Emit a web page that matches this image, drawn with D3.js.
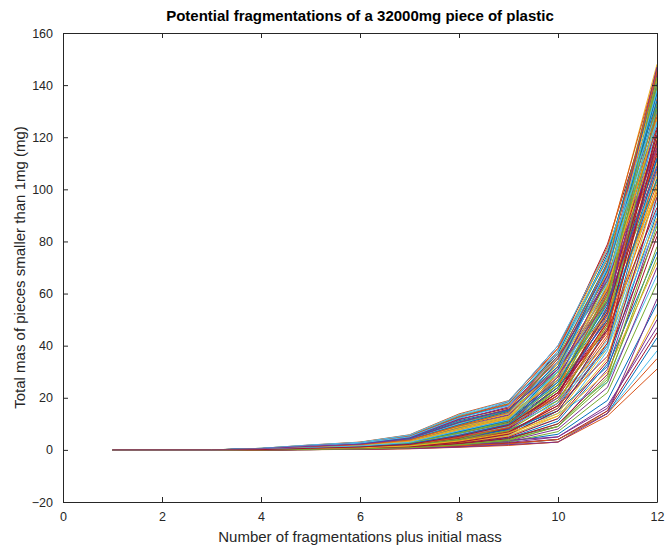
<!DOCTYPE html>
<html>
<head>
<meta charset="utf-8">
<script src="https://cdn.jsdelivr.net/npm/d3@7"></script>
<style>
  body { margin: 0; background: #fff; }
  svg { display: block; font-family: "Liberation Sans", Arial, sans-serif; }
</style>
</head>
<body>
<svg width="666" height="548"></svg>
<script>
const steps = [1, 2, 3, 4, 5, 6, 7, 8, 9, 10, 11, 12]
const xTicks = [0, 2, 4, 6, 8, 10, 12]
const yTicks = [-20, 0, 20, 40, 60, 80, 100, 120, 140, 160]

// each run: total mass below 1mg after every fragmentation step
const runs = [
  [0,0,0,0.3,1.0,1.6,3.1,8.2,12.4,27,52,121],
  [0,0,0,0.1,0.3,0.8,1.2,3.5,6.1,18,44,133],
  [0,0,0,0.5,1.6,2.4,4.8,11.5,16.2,33,61,104],
  [0,0,0,0.0,0.2,0.4,0.9,2.1,4.8,9,31,88],
  [0,0,0,0.2,0.7,1.3,2.2,6.7,11.0,30,72,146],
  [0,0,0,0.1,0.5,1.1,1.9,4.2,7.3,14,26,67],
  [0,0,0,0.4,1.2,2.0,3.9,9.8,15.1,38,79,139],
  [0,0,0,0.0,0.1,0.3,0.6,1.5,3.2,6,19,56],
  [0,0,0,0.2,0.9,1.5,2.7,7.1,9.4,22,48,117],
  [0,0,0,0.3,0.6,1.7,3.5,8.9,14.0,26,57,98],
  [0,0,0,0.1,0.4,0.9,1.6,3.8,8.2,21,54,142],
  [0,0,0,0.6,1.8,2.9,5.6,13.2,17.8,36,64,128],
  [0,0,0,0.0,0.3,0.6,1.1,2.6,5.5,12,38,109],
  [0,0,0,0.2,0.8,1.2,2.4,5.9,10.1,29,66,124],
  [0,0,0,0.1,0.2,0.5,0.8,1.9,2.4,4,14,43],
  [0,0,0,0.4,1.4,2.2,4.3,10.6,13.9,31,59,111],
  [0,0,0,0.2,0.6,1.0,2.0,4.9,9.0,24,62,147],
  [0,0,0,0.3,1.1,1.8,3.3,7.8,12.8,34,70,131],
  [0,0,0,0.0,0.2,0.5,1.0,2.4,4.1,10,27,74],
  [0,0,0,0.1,0.7,1.4,2.6,6.3,10.7,20,42,95],
  [0,0,0,0.5,1.5,2.6,5.0,12.1,18.5,40,76,136],
  [0,0,0,0.1,0.3,0.7,1.4,3.1,6.6,16,47,126],
  [0,0,0,0.2,0.9,1.6,2.9,7.4,11.8,25,50,102],
  [0,0,0,0.0,0.1,0.2,0.5,1.2,1.9,3,15,52],
  [0,0,0,0.3,1.0,1.9,3.7,9.2,13.5,32,68,144],
  [0,0,0,0.1,0.5,0.9,1.8,4.5,8.7,23,53,119],
  [0,0,0,0.4,1.3,2.1,4.1,10.2,14.6,29,55,97],
  [0,0,0,0.2,0.6,1.1,2.1,5.2,9.6,27,63,137],
  [0,0,0,0.0,0.2,0.5,0.9,2.2,4.5,11,33,91],
  [0,0,0,0.6,1.9,3.0,5.8,13.8,18.9,39,73,123],
  [0,0,0,0.1,0.4,0.8,1.5,3.6,7.6,19,49,129],
  [0,0,0,0.3,1.1,1.7,3.2,8.0,12.2,28,60,115],
  [0,0,0,0.0,0.1,0.3,0.7,1.7,3.0,7,22,64],
  [0,0,0,0.2,0.8,1.4,2.5,6.5,10.4,26,58,134],
  [0,0,0,0.5,1.6,2.5,4.9,11.8,16.0,35,67,118],
  [0,0,0,0.1,0.3,0.6,1.3,3.0,5.9,15,40,112],
  [0,0,0,0.2,0.7,1.2,2.3,5.7,9.9,21,45,99],
  [0,0,0,0.4,1.2,2.3,4.5,10.9,15.7,37,77,148],
  [0,0,0,0.0,0.2,0.4,0.8,2.0,3.7,5,17,47],
  [0,0,0,0.1,0.6,1.0,2.0,5.0,8.4,25,61,141],
  [0,0,0,0.3,0.9,1.8,3.4,8.5,13.1,30,56,106],
  [0,0,0,0.1,0.4,0.9,1.7,4.0,7.0,17,36,84],
  [0,0,0,0.2,1.0,1.5,2.8,7.0,11.3,31,69,138],
  [0,0,0,0.5,1.7,2.7,5.2,12.6,17.3,34,62,113],
  [0,0,0,0.0,0.3,0.6,1.2,2.8,5.2,13,35,101],
  [0,0,0,0.1,0.5,1.1,2.1,5.4,9.2,22,51,127],
  [0,0,0,0.3,1.2,1.9,3.6,9.0,14.3,36,74,143],
  [0,0,0,0.1,0.2,0.4,0.6,1.4,2.2,4,14,38],
  [0,0,0,0.2,0.8,1.3,2.6,6.1,10.6,24,46,93],
  [0,0,0,0.4,1.4,2.4,4.6,11.2,15.4,33,71,132],
  [0,0,0,0.1,0.4,0.7,1.4,3.3,6.3,18,50,135],
  [0,0,0,0.2,0.6,1.2,2.4,5.8,9.5,20,41,89],
  [0,0,0,0.0,0.2,0.3,0.6,1.6,3.4,8,24,70],
  [0,0,0,0.3,1.0,1.7,3.3,8.3,12.6,29,65,140],
  [0,0,0,0.6,1.8,2.8,5.4,13.0,18.2,38,70,125],
  [0,0,0,0.1,0.5,1.0,1.9,4.6,8.0,21,55,130],
  [0,0,0,0.2,0.9,1.4,2.7,6.9,11.6,27,54,108],
  [0,0,0,0.0,0.1,0.2,0.4,1.0,1.7,3,13,31],
  [0,0,0,0.3,1.1,2.0,3.8,9.5,13.8,32,63,120],
  [0,0,0,0.1,0.3,0.8,1.6,3.9,7.9,20,52,145],
  [0,0,0,0.4,1.3,2.2,4.2,10.4,14.9,30,58,103],
  [0,0,0,0.2,0.7,1.2,2.2,5.3,9.3,26,64,136],
  [0,0,0,0.0,0.2,0.5,1.0,2.3,4.3,10,29,82],
  [0,0,0,0.5,1.5,2.6,5.1,12.4,17.1,37,75,141],
  [0,0,0,0.1,0.4,0.8,1.5,3.5,7.1,16,43,116],
  [0,0,0,0.3,0.9,1.6,3.0,7.6,12.0,28,53,110],
  [0,0,0,0.1,0.2,0.4,0.8,1.8,2.8,5,16,50],
  [0,0,0,0.2,0.8,1.3,2.5,6.4,10.9,25,59,133],
  [0,0,0,0.4,1.3,2.1,4.0,9.9,14.2,34,66,122],
  [0,0,0,0.1,0.5,1.0,1.8,4.4,8.5,22,49,114],
  [0,0,0,0.2,0.6,1.1,2.0,4.8,7.7,15,32,76],
  [0,0,0,0.5,1.7,2.8,5.3,12.8,17.6,39,78,146],
  [0,0,0,0.0,0.3,0.6,1.1,2.7,5.7,14,39,105],
  [0,0,0,0.3,1.0,1.8,3.5,8.7,13.3,31,61,118],
  [0,0,0,0.1,0.4,0.9,1.7,4.1,8.8,23,57,139],
  [0,0,0,0.2,0.7,1.3,2.4,6.0,10.0,19,40,92],
  [0,0,0,0.0,0.1,0.3,0.6,1.3,2.6,4,15,45],
  [0,0,0,0.4,1.2,2.0,3.9,9.6,14.8,35,72,134],
  [0,0,0,0.1,0.5,1.0,2.0,4.7,9.1,24,60,128],
  [0,0,0,0.3,1.1,1.9,3.6,8.8,12.9,27,51,100],
  [0,0,0,0.2,0.6,1.2,2.3,5.6,9.8,28,67,147],
  [0,0,0,0.0,0.2,0.4,0.9,2.0,3.9,9,26,78],
  [0,0,0,0.6,1.9,2.9,5.7,13.5,18.7,40,77,130],
  [0,0,0,0.1,0.3,0.7,1.3,3.2,6.8,17,46,123],
  [0,0,0,0.2,0.9,1.5,2.8,7.2,11.2,26,56,112],
  [0,0,0,0.1,0.2,0.3,0.7,1.6,2.3,4,14,35],
  [0,0,0,0.3,1.0,1.7,3.2,8.1,12.7,33,68,142],
  [0,0,0,0.5,1.6,2.5,4.7,11.6,16.5,36,65,116],
  [0,0,0,0.1,0.4,0.9,1.6,3.7,7.4,19,48,131],
  [0,0,0,0.2,0.7,1.1,2.1,5.1,8.9,18,39,87],
  [0,0,0,0.0,0.2,0.5,1.0,2.5,4.9,12,34,97],
  [0,0,0,0.4,1.3,2.3,4.4,10.7,15.3,32,69,137],
  [0,0,0,0.1,0.5,1.1,2.0,4.9,8.6,21,47,107],
  [0,0,0,0.3,0.8,1.6,3.1,7.7,12.3,29,62,127],
  [0,0,0,0.0,0.1,0.3,0.5,1.1,2.0,3,14,58],
  [0,0,0,0.2,0.9,1.4,2.6,6.6,10.3,23,58,143],
  [0,0,0,0.5,1.5,2.6,5.0,12.2,17.0,38,74,126],
  [0,0,0,0.1,0.3,0.6,1.2,2.9,6.0,15,41,119],
  [0,0,0,0.2,0.7,1.2,2.3,5.5,9.7,24,50,104],
  [0,0,0,0.3,1.2,2.0,3.8,9.3,14.4,35,71,145],
  [0,0,0,0.1,0.4,0.8,1.5,3.4,6.5,13,30,72],
  [0,0,0,0.4,1.4,2.2,4.3,10.5,15.6,31,57,109],
  [0,0,0,0.0,0.2,0.4,0.8,1.9,3.6,9,28,86],
  [0,0,0,0.2,0.8,1.5,2.9,7.3,11.5,30,70,138],
  [0,0,0,0.1,0.6,1.1,2.1,5.2,9.4,22,53,121],
]

// matlab default line order
const lineColors = ['#0072BD', '#D95319', '#EDB120', '#7E2F8E', '#77AC30', '#4DBEEE', '#A2142F']

const margin = { top: 33, right: 9, bottom: 46, left: 63 }
const width = 666 - margin.left - margin.right
const height = 548 - margin.top - margin.bottom
const ink = '#262626'

const svg = d3.select('svg')
const g = svg.append('g').attr('transform', `translate(${margin.left},${margin.top})`)

const x = d3.scaleLinear().domain([0, 12]).range([0, width])
const y = d3.scaleLinear().domain([-20, 160]).range([height, 0])

const line = d3.line()
  .x((d, i) => x(steps[i]))
  .y(d => y(d))

g.append('g')
  .selectAll('path')
  .data(runs)
  .join('path')
  .attr('d', line)
  .attr('fill', 'none')
  .attr('stroke', (d, i) => lineColors[i % lineColors.length])
  .attr('stroke-width', 1)

// box and mirrored inward ticks, like matlab
const tickLen = 5
const xAxisB = d3.axisBottom(x).tickValues(xTicks).tickSizeInner(-tickLen).tickSizeOuter(0).tickPadding(10)
const xAxisT = d3.axisTop(x).tickValues(xTicks).tickSizeInner(-tickLen).tickSizeOuter(0).tickFormat('')
const yAxisL = d3.axisLeft(y).tickValues(yTicks).tickSizeInner(-tickLen).tickSizeOuter(0).tickPadding(10)
const yAxisR = d3.axisRight(y).tickValues(yTicks).tickSizeInner(-tickLen).tickSizeOuter(0).tickFormat('')

const axes = [
  g.append('g').attr('transform', `translate(0,${height})`).call(xAxisB),
  g.append('g').call(xAxisT),
  g.append('g').call(yAxisL),
  g.append('g').attr('transform', `translate(${width},0)`).call(yAxisR),
]
axes.forEach(a => {
  a.selectAll('.domain').attr('stroke', ink).attr('stroke-width', 1)
  a.selectAll('.tick line').attr('stroke', ink)
  a.selectAll('.tick text').attr('fill', ink).attr('font-size', 12.5).attr('font-family', '"Liberation Sans", Arial, sans-serif')
})

svg.append('text')
  .attr('x', margin.left + width / 2)
  .attr('y', 21)
  .attr('text-anchor', 'middle')
  .attr('font-size', 15)
  .attr('font-weight', 'bold')
  .attr('fill', '#000')
  .text('Potential fragmentations of a 32000mg piece of plastic')

svg.append('text')
  .attr('x', margin.left + width / 2)
  .attr('y', 542)
  .attr('text-anchor', 'middle')
  .attr('font-size', 15)
  .attr('fill', ink)
  .text('Number of fragmentations plus initial mass')

svg.append('text')
  .attr('transform', `translate(25,${margin.top + height / 2}) rotate(-90)`)
  .attr('text-anchor', 'middle')
  .attr('font-size', 15)
  .attr('fill', ink)
  .text('Total mas of pieces smaller than 1mg (mg)')
</script>
</body>
</html>
